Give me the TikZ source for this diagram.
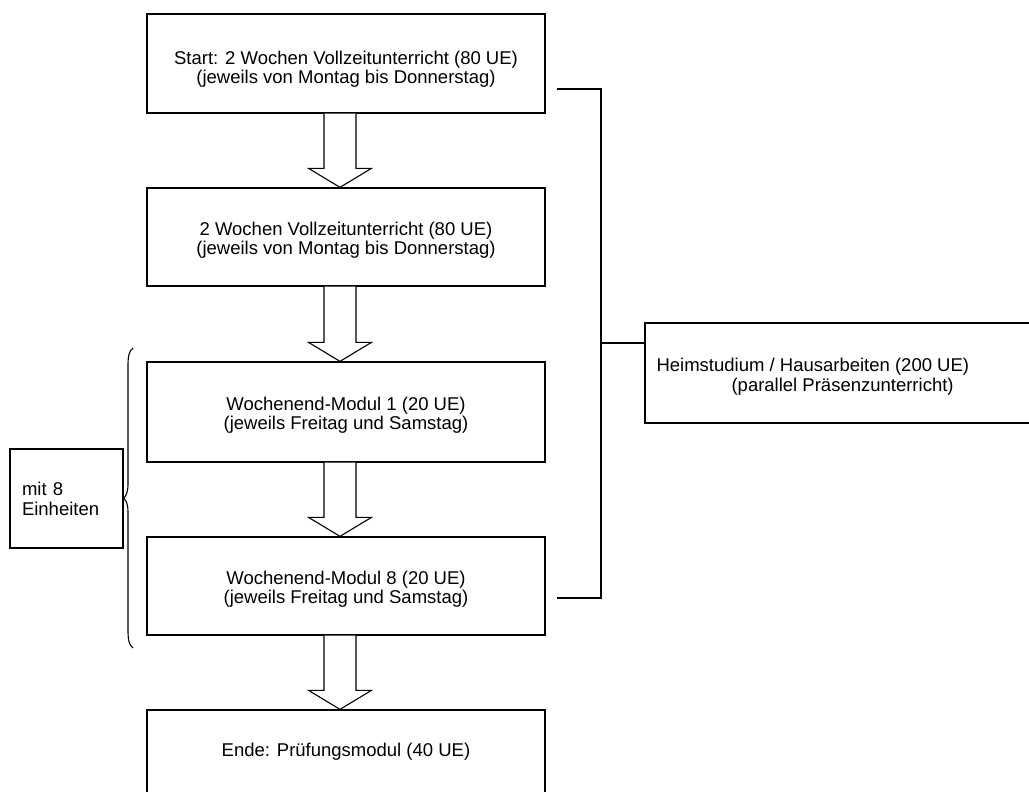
\documentclass[tikz,border=0pt]{standalone}
\usepackage{fontspec}
\setmainfont{Liberation Sans}
\usetikzlibrary{calc}
\begin{document}
\begin{tikzpicture}[x=1pt,y=-1pt,
  ln/.style={line width=1.3pt},
  box/.style={draw, ln, minimum width=398pt, align=center, inner sep=0pt,
    font=\fontsize{18.5}{19}\selectfont},
  barrow/.style={draw, line width=1.1pt, fill=white},
  txt/.style={font=\fontsize{18.5}{20}\selectfont}]
\useasboundingbox (0,0) rectangle (1029,792);
\clip (0,0) rectangle (1029,792);
\newcommand\blockarrow[2]{%
  \draw[barrow] ($(#1.south)+(-22,0)$) -- ($(#2.north)+(-22,-19)$)
    -- ($(#2.north)+(-37.5,-19)$) -- ($(#2.north)+(-6,0)$)
    -- ($(#2.north)+(25.5,-19)$) -- ($(#2.north)+(10,-19)$)
    -- ($(#1.south)+(10,0)$);}
\newcommand\lowstrut[1]{\rule{0pt}{#1}}
% main column
\node[box, minimum height=99pt] (b1) at (346,63.5)
  {\lowstrut{25pt}Start: 2 Wochen Vollzeitunterricht (80 UE)\\(jeweils von Montag bis Donnerstag)};
\node[box, minimum height=98pt] (b2) at (346,237)
  {\lowstrut{20pt}2 Wochen Vollzeitunterricht (80 UE)\\(jeweils von Montag bis Donnerstag)};
\node[box, minimum height=100pt] (b3) at (346,412)
  {\lowstrut{20pt}Wochenend-Modul 1 (20 UE)\\(jeweils Freitag und Samstag)};
\node[box, minimum height=98pt] (b4) at (346,586)
  {\lowstrut{20pt}Wochenend-Modul 8 (20 UE)\\(jeweils Freitag und Samstag)};
\node[box, minimum height=100pt, text height=12pt, text depth=20pt] (b5) at (346,760)
  {Ende: Prüfungsmodul (40 UE)};
\blockarrow{b1}{b2}
\blockarrow{b2}{b3}
\blockarrow{b3}{b4}
\blockarrow{b4}{b5}
% right box and bracket
\node[draw, ln, minimum width=455pt, minimum height=100pt] (r) at (872.5,373) {};
\node[txt, anchor=west, align=left, inner sep=0pt] (rt) at ($(r.west)+(12,3.5)$)
  {Heimstudium / Hausarbeiten (200 UE)\\\hspace*{75pt}(parallel Präsenzunterricht)};
\coordinate (bt) at (557,89);
\coordinate (bb) at (557,598);
\coordinate (bm) at (601,343);
\draw[ln] (bt) -- ++(44,0) |- (bb);
\draw[ln] (bm) -- (bm -| r.west);
% left box and brace
\node[draw, ln, minimum width=113pt, minimum height=99pt, text width=89pt,
  inner xsep=12pt, align=left, txt] (l) at (66.5,498.5) {mit 8\\Einheiten};
\draw[line width=1.1pt] (133,348) .. controls (129,351) and (128,356) .. (128,366)
  -- (128,484) .. controls (128,492) and (126,496) .. (l.east)
  .. controls (126,500) and (128,504) .. (128,512)
  -- (128,630) .. controls (128,640) and (129,645) .. (133,648);
\end{tikzpicture}
\end{document}
